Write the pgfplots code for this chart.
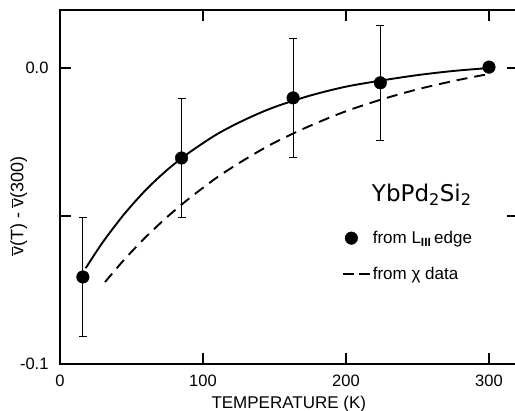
\documentclass[border=0pt]{standalone}
\usepackage{pgfplots}
\pgfplotsset{compat=1.18}
\usepackage{fontspec}
\setmainfont{Liberation Sans}
\newfontfamily\dejavu{DejaVu Sans}
\begin{document}
\begin{tikzpicture}
\begin{axis}[
  scale only axis, width=457.6pt, height=354pt,
  xmin=0, xmax=320, ymin=-0.1, ymax=0.0196,
  xtick={0,100,200,300},
  ytick={-0.1,-0.05,0}, yticklabels={-0.1,,0.0},
  tick align=inside, major tick length=11pt,
  tick style={line width=1.3pt, black},
  axis line style={line width=1.3pt},
  /pgf/number format/assume math mode=true,
  xticklabel style={font=\fontsize{16.5}{19}\selectfont, yshift=-7pt},
  yticklabel style={font=\fontsize{16.5}{19}\selectfont, xshift=-8pt},
  xlabel={TEMPERATURE (K)},
  xlabel style={font=\fontsize{17}{20}\selectfont, yshift=-3pt},
  ylabel={$\overline{\mbox{v}}$(T) - $\overline{\mbox{v}}$(300)},
  ylabel style={font=\fontsize{18}{21}\selectfont, at={(ticklabel cs:0.446)}, yshift=-14pt},
  legend style={at={(axis cs:197,-0.0544)}, anchor=north west, draw=none, fill=none,
    font=\fontsize{17}{20}\selectfont, row sep=18pt, inner sep=0pt,
    /tikz/every even column/.append style={column sep=3pt}},
  legend cell align=left,
]
\addplot[forget plot, line width=1.9pt, smooth] coordinates {
  (18,-0.0676) (30,-0.0588) (45,-0.0493) (60,-0.0412) (75,-0.0344)
  (90,-0.0287) (110,-0.0223) (130,-0.0173) (150,-0.0132) (175,-0.0093)
  (200,-0.0063) (225,-0.0042) (250,-0.0024) (275,-0.0010) (300,0.0)};
\addplot[only marks, mark=*, mark size=6.3pt, black,
  error bars/.cd, y dir=both, y explicit,
  error bar style={line width=1pt},
  error mark options={rotate=90, mark size=4pt, line width=1pt}]
  coordinates {
  (16,-0.0706) +- (0,0.02)
  (85,-0.0304) +- (0,0.02)
  (163,-0.0101) +- (0,0.02)
  (224,-0.0050) +- (0,0.0195)
  (300,0.0003) +- (0,0)};
\addlegendentry{from L\textsubscript{\textbf{III}}\,edge}
\addplot[line width=1.9pt, dash pattern=on 11pt off 7pt, smooth,
  legend image code/.code={\draw[line width=1.9pt, dash pattern=on 11pt off 5pt] (0pt,0pt) -- (27pt,0pt);}]
  coordinates {
  (31.5,-0.0723) (45,-0.0647) (60,-0.0571) (75,-0.0503) (90,-0.0442)
  (110,-0.0369) (130,-0.0307) (150,-0.0252) (175,-0.0195) (200,-0.0146)
  (225,-0.0106) (250,-0.0072) (275,-0.0044) (300,-0.0020)};
\addlegendentry{from χ data}
\node[font=\dejavu\fontsize{23}{27}\selectfont] at (axis cs:253,-0.0429) {YbPd\textsubscript{2}Si\textsubscript{2}};
\end{axis}
\pgfresetboundingbox
\path[use as bounding box] ([xshift=-60pt,yshift=-47pt]current axis.south west) rectangle ([xshift=455pt,yshift=10pt]current axis.north west);
\end{tikzpicture}
\end{document}
